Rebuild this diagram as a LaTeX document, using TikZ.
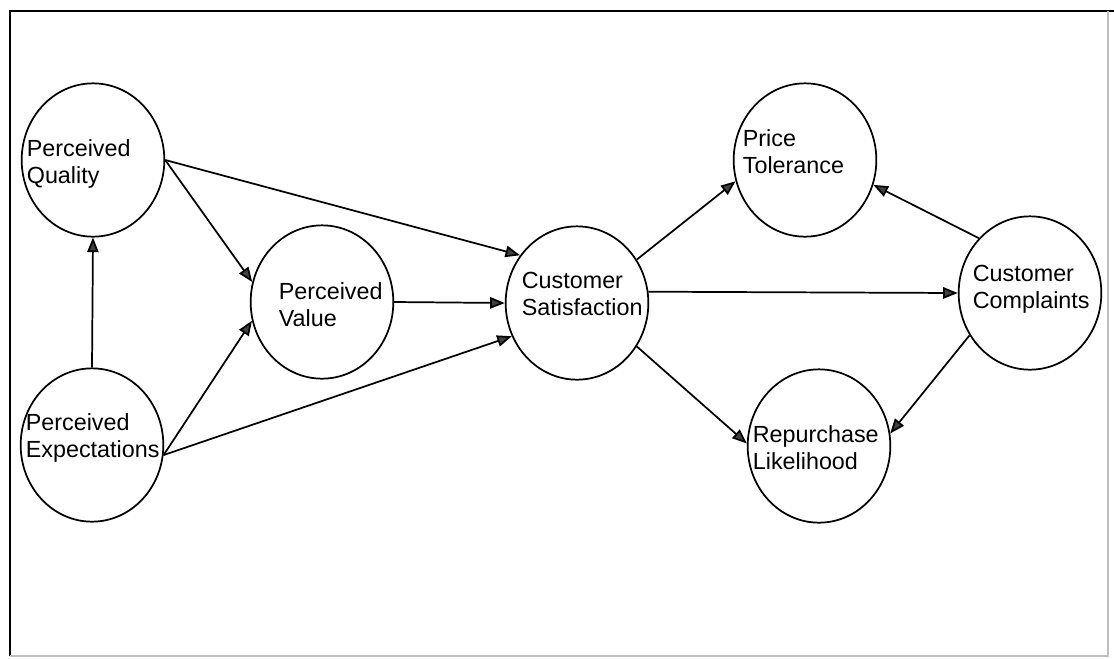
\documentclass[tikz,border=0pt]{standalone}
\usepackage{fontspec}
\setmainfont{Liberation Sans}
\usetikzlibrary{arrows.meta,shapes.geometric}

\begin{document}
\begin{tikzpicture}[x=0.75pt, y=-0.75pt,
      line width=1.3pt,
      construct/.style = {shape=ellipse, draw, fill=white,
        minimum width=107pt, minimum height=115pt, inner sep=0pt
      },
      texto/.style = {anchor=base west, align=left, inner sep=0pt,
        font=\fontsize{17.5}{20}\selectfont
      },
      flecha/.style = {-{Triangle[length=11pt,width=8.5pt,fill=black!75]}}
    ]
    \useasboundingbox (0,0) rectangle (1114,658);
    %marco
    \draw (10,656) -- (10,11) -- (1114,11);
    \draw[black!25, line width=0.8pt] (10,656) -- (1108,656) -- (1108,11);

    %constructos
    \node[construct] (pq) at (93,160) {};
    \node[construct] (pe) at (92,445) {};
    \node[construct] (pv) at (322,302) {};
    \node[construct] (cs) at (577,303) {};
    \node[construct] (pt) at (805,160) {};
    \node[construct] (cc) at (1030,293) {};
    \node[construct] (rl) at (819,446) {};

    %textos (base = ultima linea)
    \node[texto] (pq-t) at (26,183) {Perceived\\Quality};
    \node[texto] (pe-t) at (25,457) {Perceived\\Expectations};
    \node[texto] (pv-t) at (278,326) {Perceived\\Value};
    \node[texto] (cs-t) at (521,315) {Customer\\Satisfaction};
    \node[texto] (pt-t) at (742,173) {Price\\Tolerance};
    \node[texto] (cc-t) at (972,308) {Customer\\Complaints};
    \node[texto] (rl-t) at (752,469) {Repurchase\\Likelihood};

    %lado izquierdo
    \draw[flecha] (pe.north) -- (pq.south);
    \draw[flecha] (pq.east) -- (pv.164);
    \draw[flecha] (pq.east) -- (cs.140);
    \draw[flecha] (pe.-8) -- (pv.195);
    \draw[flecha] (pe.-8) -- (cs.207);
    \draw[flecha] (pv.east) -- (cs.west);

    %lado derecho
    \draw[flecha] (cs.36) -- (pt.197);
    \draw[flecha] (cs.9) -- (cc.west);
    \draw[flecha] (cs.-36) -- (rl.178);
    \draw[flecha] (cc.133) -- (pt.-20);
    \draw[flecha] (cc.215) -- (rl.10);
\end{tikzpicture}
\end{document}
